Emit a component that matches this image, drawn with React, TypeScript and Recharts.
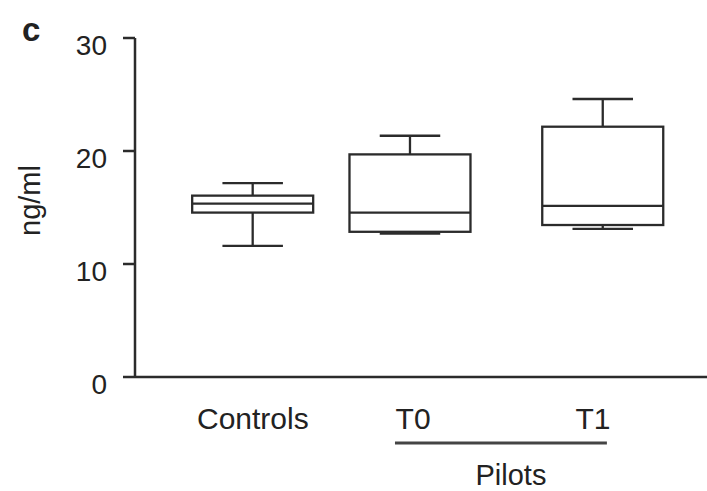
import React from 'react';
import { ComposedChart, Bar, XAxis, YAxis, ReferenceLine } from 'recharts';

// ---- data ----
const categories = ['Controls', 'T0', 'T1'];
const whiskerLow = [11.6, 12.7, 13.1];
const quartile1 = [14.55, 12.85, 13.45];
const medians = [15.35, 14.55, 15.15];
const quartile3 = [16.05, 19.7, 22.15];
const whiskerHigh = [17.15, 21.35, 24.6];
const yTicks = [0, 10, 20, 30];
const groupLabel = 'Pilots';
const panelLetter = 'c';
const yLabel = 'ng/ml';

// ---- layout (not data) ----
const groupX = [2.06, 4.81, 8.18];
const labelNudge = [0, 3, -10];
const bracket = { x1: 4.545, x2: 8.25, y: -5.84 };

const INK = '#2b2b2b';
const FONT = '"Liberation Sans", Arial, Helvetica, sans-serif';

const table = categories.map((name, i) => ({
  name,
  x: groupX[i],
  low: whiskerLow[i],
  q1: quartile1[i],
  med: medians[i],
  q3: quartile3[i],
  high: whiskerHigh[i],
}));

const BoxShape = (props: any) => {
  const { x, y, width, height, payload } = props;
  if (height == null || !payload || !payload.high) return null;
  const base = y + height;
  const k = height / payload.high;
  const py = (v: number) => base - v * k;
  const cx = x + width / 2;
  const capHalf = width / 4;
  const s = { stroke: INK, strokeWidth: 2.3, fill: 'none' };
  return (
    <g>
      <line x1={cx} x2={cx} y1={py(payload.high)} y2={py(payload.q3)} {...s} />
      <line x1={cx - capHalf} x2={cx + capHalf} y1={py(payload.high)} y2={py(payload.high)} {...s} />
      <line x1={cx} x2={cx} y1={py(payload.low)} y2={py(payload.q1)} {...s} />
      <line x1={cx - capHalf} x2={cx + capHalf} y1={py(payload.low)} y2={py(payload.low)} {...s} />
      <rect x={x} y={py(payload.q3)} width={width} height={py(payload.q1) - py(payload.q3)} {...s} />
      <line x1={x} x2={x + width} y1={py(payload.med)} y2={py(payload.med)} {...s} />
    </g>
  );
};

const nearestIndex = (v: number) => {
  let best = 0;
  groupX.forEach((g, i) => {
    if (Math.abs(g - v) < Math.abs(groupX[best] - v)) best = i;
  });
  return best;
};

const XTick = (props: any) => {
  const { x, y, payload } = props;
  const i = nearestIndex(payload.value);
  return (
    <text x={x + labelNudge[i]} y={y + 52} textAnchor="middle" fontSize={30} fill="#222" fontFamily={FONT}>
      {categories[i]}
    </text>
  );
};

const YTick = (props: any) => {
  const { x, y, payload } = props;
  return (
    <text x={x} y={y + 17} textAnchor="end" fontSize={28} fill="#222" fontFamily={FONT}>
      {payload.value}
    </text>
  );
};

const YLabel = (props: any) => {
  const vb = props.viewBox || { x: 0, y: 38, width: 135, height: 339 };
  const cx = vb.x + 30;
  const cy = vb.y + vb.height / 2 - 7;
  return (
    <text
      x={cx}
      y={cy}
      transform={`rotate(-90, ${cx}, ${cy})`}
      textAnchor="middle"
      dominantBaseline="central"
      fontSize={29}
      fill="#222"
      fontFamily={FONT}
    >
      {yLabel}
    </text>
  );
};

const GroupLabel = (props: any) => {
  const vb = props.viewBox || { x: 0, y: 0, width: 0, height: 0 };
  return (
    <text x={vb.x + vb.width / 2 + 10} y={vb.y + 42} textAnchor="middle" fontSize={29} fill="#222" fontFamily={FONT}>
      {groupLabel}
    </text>
  );
};

export default function App() {
  return (
    <div style={{ position: 'absolute', left: 0, top: 0, width: 707, height: 491, background: '#fff' }}>
      <ComposedChart width={707} height={491} data={table} margin={{ top: 38, right: 0, bottom: 0, left: 0 }}>
        <XAxis
          type="number"
          dataKey="x"
          domain={[0, 10]}
          ticks={groupX}
          tick={<XTick />}
          tickLine={false}
          tickSize={0}
          tickMargin={0}
          height={114}
          axisLine={{ stroke: INK, strokeWidth: 2.5 }}
          interval={0}
        />
        <YAxis
          type="number"
          domain={[0, 30]}
          ticks={yTicks}
          width={135}
          tickSize={12}
          tickMargin={16}
          tick={<YTick />}
          tickLine={{ stroke: INK, strokeWidth: 2.5 }}
          axisLine={{ stroke: INK, strokeWidth: 2.5 }}
          label={<YLabel />}
          interval={0}
        />
        <Bar dataKey="high" barSize={121} shape={<BoxShape />} isAnimationActive={false} />
        <ReferenceLine
          segment={[{ x: bracket.x1, y: bracket.y }, { x: bracket.x2, y: bracket.y }]}
          ifOverflow="visible"
          stroke="#444"
          strokeWidth={3.2}
          label={<GroupLabel />}
        />
      </ComposedChart>
      <svg width={707} height={491} style={{ position: 'absolute', left: 0, top: 0, pointerEvents: 'none' }}>
        <text x={22} y={41} fontSize={33} fontWeight="bold" fill="#222" fontFamily={FONT}>
          {panelLetter}
        </text>
      </svg>
    </div>
  );
}
